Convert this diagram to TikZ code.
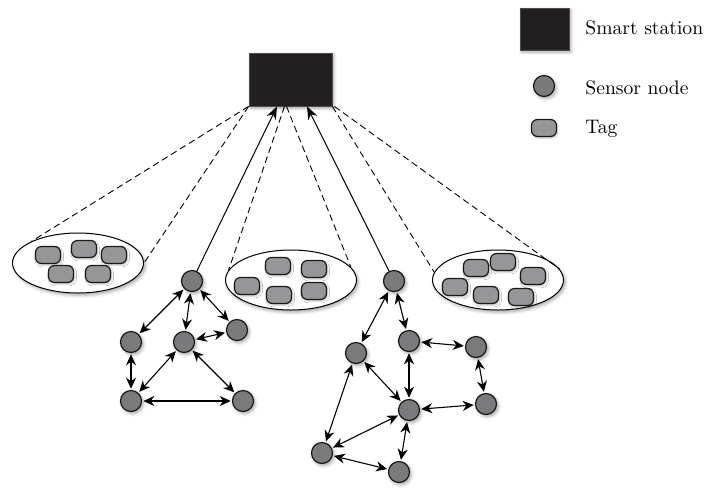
\documentclass[tikz,border=0pt]{standalone}
\usetikzlibrary{shapes.geometric,arrows.meta,shadows.blur}
\definecolor{stationfill}{RGB}{35,31,32}
\definecolor{sensorfill}{RGB}{122,122,124}
\definecolor{tagfill}{RGB}{150,150,152}
\tikzset{
  softshadow/.style={blur shadow={shadow xshift=0.9pt,shadow yshift=-1.1pt,shadow blur radius=1.6pt,shadow opacity=35}},
  tagshadow/.style={blur shadow={shadow xshift=0.6pt,shadow yshift=-0.8pt,shadow blur radius=0.9pt,shadow opacity=25}},
  station/.style={rectangle,draw=black!70,fill=stationfill,line width=0.4pt,minimum width=41.5pt,minimum height=26.5pt,inner sep=0pt,softshadow},
  sensor/.style={circle,draw=black!90,fill=sensorfill,line width=0.6pt,minimum size=10.5pt,inner sep=0pt,softshadow},
  tag/.style={rectangle,rounded corners=3pt,draw=black!90,fill=tagfill,line width=0.6pt,minimum width=12.5pt,minimum height=8.5pt,inner sep=0pt,tagshadow},
  tagzone/.style={ellipse,draw=black,fill=white,line width=0.5pt,minimum width=65.5pt,minimum height=30pt,inner sep=0pt,softshadow},
  link/.style={{Stealth[length=5.5pt,width=5pt]}-{Stealth[length=5.5pt,width=5pt]},line width=0.55pt,shorten <=0.6pt,shorten >=0.6pt},
  uplink/.style={-{Stealth[length=6.5pt,width=5pt]},line width=0.5pt},
  taglink/.style={line width=0.45pt,dash pattern=on 3.3pt off 2pt},
  legendtext/.style={anchor=west,inner sep=0pt,font=\fontsize{9.8}{12}\selectfont}
}
\begin{document}
\begin{tikzpicture}[x=0.5pt,y=-0.5pt]
\useasboundingbox (0,0) rectangle (707,489);

\node[station] (station) at (290.5,79.5) {};

\node[tagzone] (zone1) at (78,263) {};
\node[tagzone] (zone2) at (291,280) {};
\node[tagzone] (zone3) at (498,280) {};

\node[tag] (t11) at (48,255) {};
\node[tag] (t12) at (84,249) {};
\node[tag] (t13) at (114,255) {};
\node[tag] (t14) at (61,274) {};
\node[tag] (t15) at (98,274) {};

\node[tag] (t21) at (278,266) {};
\node[tag] (t22) at (314,269) {};
\node[tag] (t23) at (247,286) {};
\node[tag] (t24) at (279,295) {};
\node[tag] (t25) at (314,291) {};

\node[tag] (t31) at (476,268) {};
\node[tag] (t32) at (503,262) {};
\node[tag] (t33) at (533,276) {};
\node[tag] (t34) at (455,287) {};
\node[tag] (t35) at (486,295) {};
\node[tag] (t36) at (521,297) {};

\node[sensor] (a1) at (192,281) {};
\node[sensor] (a2) at (131,342) {};
\node[sensor] (a3) at (184,342) {};
\node[sensor] (a4) at (237,330) {};
\node[sensor] (a5) at (131,401) {};
\node[sensor] (a6) at (243,401) {};

\node[sensor] (b1) at (394,281) {};
\node[sensor] (b2) at (356,353) {};
\node[sensor] (b3) at (409,341) {};
\node[sensor] (b4) at (476,347) {};
\node[sensor] (b5) at (409,410) {};
\node[sensor] (b6) at (486,404) {};
\node[sensor] (b7) at (322,453) {};
\node[sensor] (b8) at (399,472) {};

\draw[taglink] (station.south west) -- (zone1.north west);
\draw[taglink] (station.south west) -- (zone1.east);
\draw[taglink] ([xshift=-3pt]station.south) -- (zone2.171);
\draw[taglink] ([xshift=-2pt]station.south) -- (zone2.12);
\draw[taglink] (station.south east) -- (zone3.173);
\draw[taglink] ([xshift=1pt]station.south east) -- (zone3.10);

\draw[uplink] (a1) -- ([xshift=-6.75pt]station.south);
\draw[uplink] (b1) -- ([xshift=8.25pt]station.south);

\draw[link] (a1) -- (a2);
\draw[link] (a1) -- (a3);
\draw[link] (a1) -- (a4);
\draw[link] (a4) -- (a3);
\draw[link] (a2) -- (a5);
\draw[link] (a3) -- (a5);
\draw[link] (a3) -- (a6);
\draw[link] (a5) -- (a6);

\draw[link] (b1) -- (b2);
\draw[link] (b1) -- (b3);
\draw[link] (b3) -- (b4);
\draw[link] (b3) -- (b5);
\draw[link] (b2) -- (b5);
\draw[link] (b4) -- (b6);
\draw[link] (b5) -- (b6);
\draw[link] (b2) -- (b7);
\draw[link] (b5) -- (b7);
\draw[link] (b5) -- (b8);
\draw[link] (b7) -- (b8);

\node[station,minimum width=24.5pt,minimum height=21pt] (legstation) at (544.5,29) {};
\node[sensor] (legsensor) at (544,86) {};
\node[tag] (legtag) at (544,128) {};
\node[legendtext] (legstationtext) at (585,28) {Smart station};
\node[legendtext] (legsensortext) at (585,88) {Sensor node};
\node[legendtext] (legtagtext) at (585,129) {Tag};
\end{tikzpicture}
\end{document}
